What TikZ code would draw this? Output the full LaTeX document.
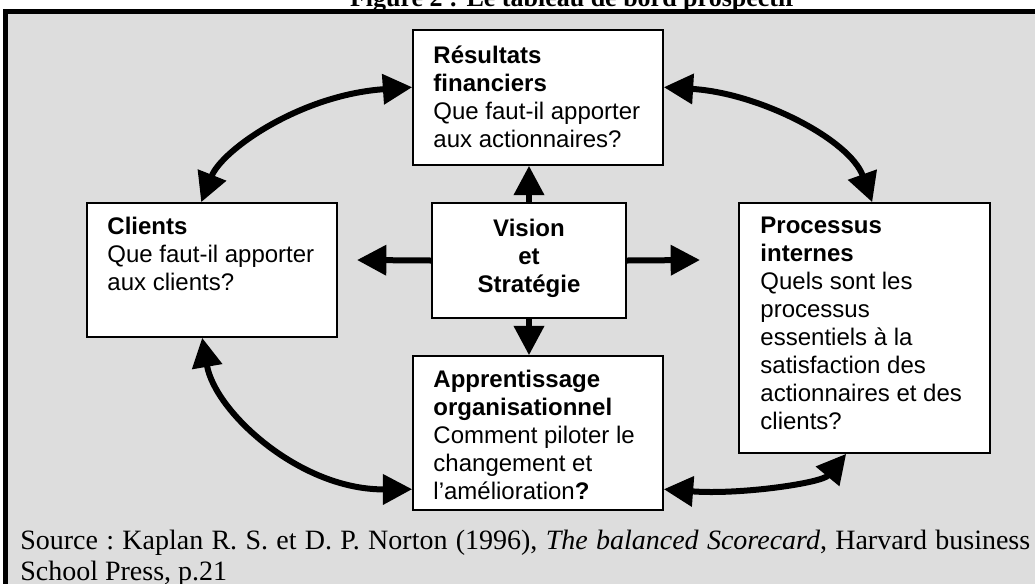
\documentclass[tikz,border=0pt]{standalone}
\usepackage{fontspec}
\setmainfont{Liberation Serif}
\setsansfont{Liberation Sans}
\usetikzlibrary{calc,fit,arrows.meta}

\definecolor{panelgray}{RGB}{221,221,221}
\newcommand{\boxfont}{\sffamily\fontsize{18pt}{21pt}\selectfont}
\newcommand{\srcfont}{\rmfamily\fontsize{21pt}{23.25pt}\selectfont\frenchspacing}

\begin{document}
\begin{tikzpicture}[x=0.75pt,y=-0.75pt,
	box/.style={draw, line width=1.2pt, fill=white, inner sep=0pt},
	boxtext/.style={anchor=north west, inner sep=0pt, align=left, font=\boxfont},
	flow/.style={line width=4.5pt, -{Triangle[length=22pt,width=22pt]}},
	link/.style={line width=4.5pt, {Triangle[length=22pt,width=22pt]}-{Triangle[length=22pt,width=22pt]}}]

	\useasboundingbox (0,0) rectangle (1035,583);

	% ---- title and frame

	\node[anchor=base, font=\bfseries\fontsize{19.5pt}{22pt}\selectfont] (title) at (572,6)
		{Figure 2 : Le tableau de bord prospectif};
	\draw[line width=3.75pt, fill=panelgray] (5,11) rectangle (1050,600);

	% ---- boxes

	\node[box, fit={(413,30) (663,165)}] (fin) {};
	\node[box, fit={(87,203) (337,337)}] (clients) {};
	\node[box, fit={(432,203) (626,318)}] (vision) {};
	\node[box, fit={(739,203) (990,453)}] (proc) {};
	\node[box, fit={(413,356) (663,510)}] (app) {};

	% ---- box texts

	\node[boxtext] (fin-txt) at ($(fin.north west)+(21,16)$)
		{\textbf{Résultats}\\\textbf{financiers}\\Que faut-il apporter\\aux actionnaires?};
	\node[boxtext] (clients-txt) at ($(clients.north west)+(21,15)$)
		{\textbf{Clients}\\Que faut-il apporter\\aux clients?};
	\node[font=\boxfont\bfseries, align=center, inner sep=0pt] (vision-txt) at ($(vision.center)+(0,-2)$)
		{Vision\\et\\Stratégie};
	\node[boxtext] (proc-txt) at ($(proc.north west)+(22,15)$)
		{\textbf{Processus}\\\textbf{internes}\\Quels sont les\\processus\\essentiels à la\\satisfaction des\\actionnaires et des\\clients?};
	\node[boxtext] (app-txt) at ($(app.north west)+(21,15)$)
		{\textbf{Apprentissage}\\\textbf{organisationnel}\\Comment piloter le\\changement et\\l’amélioration\textbf{?}};

	% ---- arrows from the centre

	\coordinate (up) at (vision.north |- fin.south);
	\coordinate (down) at (vision.south |- app.north);
	\coordinate (left) at (357,260);
	\coordinate (right) at (700,260);

	\foreach \s/\t in {north/up, south/down, west/left, east/right} {
		\draw[flow] (vision.\s) -- (\t);
	}

	% ---- arrows round the boxes

	\draw[link] ($(clients.north west)+(115,0)$) .. controls (222,150) and (300,95) .. ($(fin.north west)+(0,58)$);
	\draw[link] ($(fin.north east)+(0,58)$) .. controls (760,93) and (850,140) .. ($(proc.north west)+(134,0)$);
	\draw[link] ($(clients.south west)+(116,0)$) .. controls (215,412) and (300,490) .. ($(app.north west)+(0,134)$);
	\draw[link] ($(app.north east)+(0,134)$) .. controls (740,495) and (822,483) .. ($(proc.south west)+(108,0)$);

	% ---- source

	\node[anchor=base west, inner sep=0pt, text width=757.5pt, align=justify, font=\srcfont] (source) at (20,549)
		{Source : Kaplan R. S. et D. P. Norton (1996), \textit{The balanced Scorecard}, Harvard business School Press, p.21};

\end{tikzpicture}
\end{document}
